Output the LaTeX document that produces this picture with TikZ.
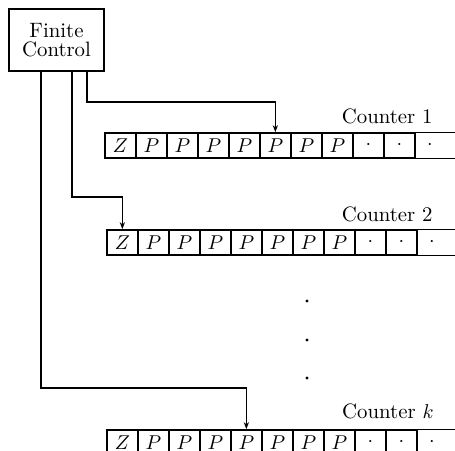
\documentclass[tikz,border=0pt]{standalone}
\usetikzlibrary{arrows.meta}
\tikzset{
  every node/.style={font=\fontsize{10.4pt}{12pt}\selectfont},
  cell/.style={draw, line width=0.85pt, minimum width=15.5pt, minimum height=12.5pt, inner sep=0pt, anchor=west},
  opencell/.style={minimum width=15.5pt, minimum height=12.5pt, inner sep=0pt, anchor=west},
  tapeline/.style={line width=0.85pt},
  ctrl/.style={draw, line width=0.85pt, minimum width=47.5pt, minimum height=31pt, inner sep=0pt, align=center},
  conn/.style={line width=0.7pt, -{Stealth[length=3.5pt,width=2.6pt]}},
  lbl/.style={anchor=base east, inner sep=0pt},
  vdot/.style={fill=black}
}
\newcommand\mytape[3]{%
  \foreach \i/\t in {0/Z,1/P,2/P,3/P,4/P,5/P,6/P,7/P,8/\cdot,9/\cdot}
    \node[cell] (#1c\i) at (#2+31*\i,#3) {$\t$};
  \node[opencell] (#1c10) at (#2+310,#3) {$\cdot$};
  \draw[tapeline] (#1c10.north west) -- (#1c10.north west -| R);
  \draw[tapeline] (#1c10.south west) -- (#1c10.south west -| R);
}
\begin{document}
\begin{tikzpicture}[x=0.5pt,y=-0.5pt]
  \useasboundingbox (0,0) rectangle (455,450);
  \clip (0,0) rectangle (455,450);
  \coordinate (R) at (456,0);
  \node[ctrl] (fc) at (56.5,40) {Finite\\[-2.5pt]Control};
  \mytape{ta}{104}{145.5}
  \mytape{tb}{106}{242.5}
  \mytape{tk}{106}{442.5}
  \node[lbl] (la) at (433,123) {Counter 1};
  \node[lbl] (lb) at (433,221) {Counter 2};
  \node[lbl] (lk) at (434,418) {Counter $k$};
  \fill[vdot] (307,301) circle[radius=0.8pt];
  \fill[vdot] (307,340) circle[radius=0.8pt];
  \fill[vdot] (307,378) circle[radius=0.8pt];
  \draw[conn] ([xshift=39.5pt]fc.south west) |- ([yshift=15pt]tac5.north) -- (tac5.north);
  \draw[conn] ([xshift=32pt]fc.south west) |- ([yshift=16pt]tbc0.north) -- (tbc0.north);
  \draw[conn] ([xshift=16.5pt]fc.south west) |- ([yshift=20.5pt]tkc4.north) -- (tkc4.north);
\end{tikzpicture}
\end{document}
